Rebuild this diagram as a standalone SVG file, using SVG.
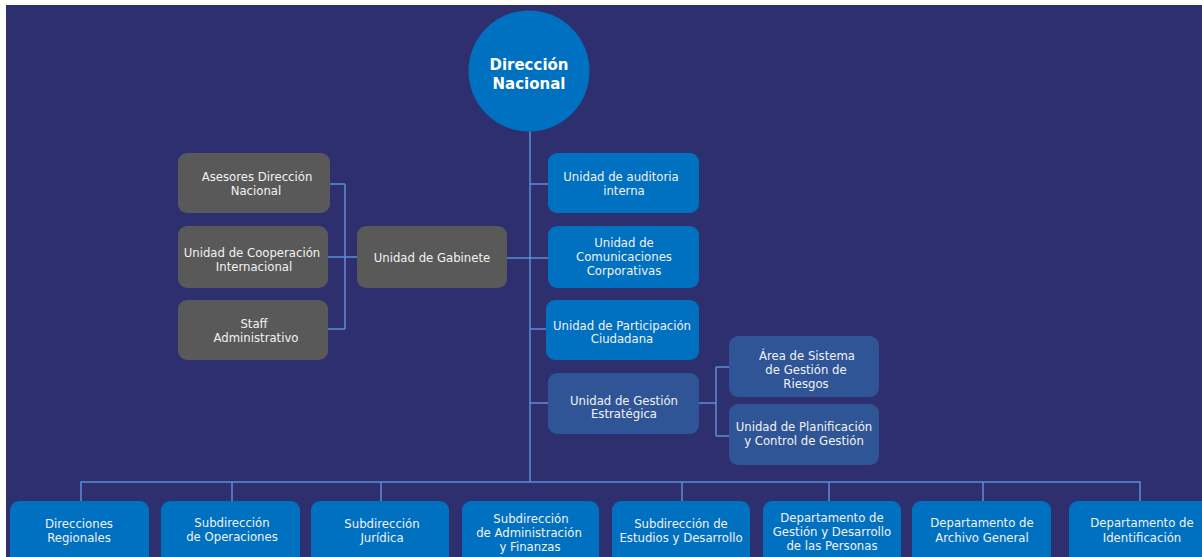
<svg xmlns="http://www.w3.org/2000/svg" width="1202" height="557" viewBox="0 0 1202 557">
<style>
.t{font-family:"DejaVu Sans","Verdana",sans-serif;font-size:11.7px;fill:#f2f2f2;text-anchor:middle}
.tb{font-family:"DejaVu Sans","Verdana",sans-serif;font-size:15px;font-weight:bold;fill:#ffffff;text-anchor:middle}
.gray{fill:#595959}
.blue{fill:#0070c0}
.dblue{fill:#2f5597}
.ln{stroke:#5b8fd6;stroke-width:1.5;fill:none}
</style>
<rect x="0" y="0" width="1202" height="557" fill="#ffffff"/>
<rect x="6" y="5" width="1196" height="552" fill="#2d2f6e"/>
<g id="connectors">
<path class="ln" d="M530,131 V482"/>
<path class="ln" d="M81,501 V482 H1140 V501"/>
<path class="ln" d="M232,482 V501 M381,482 V501 M682,482 V501 M829,482 V501 M983,482 V501"/>
<path class="ln" d="M330,184 H345 M328,257 H357 M328,329 H345 M345,184 V329"/>
<path class="ln" d="M507,258 H530"/>
<path class="ln" d="M530,184 H548 M530,258 H548 M530,329 H546 M530,403 H548"/>
<path class="ln" d="M699,403 H716 M716,367 V436 M716,367 H729 M716,436 H729"/>
</g>
<g id="n-direccion"><circle cx="529" cy="71" r="60.5" class="blue"/><text class="tb" x="529" y="70">Dirección</text><text class="tb" x="529" y="89">Nacional</text></g>
<g id="n-asesores"><rect x="178" y="153" width="152" height="60" rx="9" class="gray"/><text class="t" x="257" y="181">Asesores Dirección</text><text class="t" x="256" y="195">Nacional</text></g>
<g id="n-cooperacion"><rect x="178" y="226" width="150" height="62" rx="9" class="gray"/><text class="t" x="252" y="257">Unidad de Cooperación</text><text class="t" x="254" y="271">Internacional</text></g>
<g id="n-staff"><rect x="178" y="300" width="150" height="60" rx="9" class="gray"/><text class="t" x="254" y="328">Staff</text><text class="t" x="256" y="342">Administrativo</text></g>
<g id="n-gabinete"><rect x="357" y="226" width="150" height="62" rx="9" class="gray"/><text class="t" x="432" y="262">Unidad de Gabinete</text></g>
<g id="n-auditoria"><rect x="548" y="153" width="151" height="60" rx="9" class="blue"/><text class="t" x="621" y="181">Unidad de auditoria</text><text class="t" x="624" y="195">interna</text></g>
<g id="n-comunicaciones"><rect x="548" y="226" width="151" height="62" rx="9" class="blue"/><text class="t" x="624" y="247">Unidad de</text><text class="t" x="624" y="261">Comunicaciones</text><text class="t" x="624" y="275">Corporativas</text></g>
<g id="n-participacion"><rect x="546" y="300" width="153" height="60" rx="9" class="blue"/><text class="t" x="622" y="330">Unidad de Participación</text><text class="t" x="622" y="343">Ciudadana</text></g>
<g id="n-gestion"><rect x="548" y="373" width="151" height="61" rx="9" class="dblue"/><text class="t" x="624" y="405">Unidad de Gestión</text><text class="t" x="624" y="418">Estratégica</text></g>
<g id="n-riesgos"><rect x="729" y="336" width="150" height="61" rx="9" class="dblue"/><text class="t" x="807" y="360">Área de Sistema</text><text class="t" x="806" y="374">de Gestión de</text><text class="t" x="806" y="388">Riesgos</text></g>
<g id="n-planificacion"><rect x="729" y="404" width="150" height="61" rx="9" class="dblue"/><text class="t" x="804" y="431">Unidad de Planificación</text><text class="t" x="804" y="445">y Control de Gestión</text></g>
<g id="n-regionales"><rect x="10" y="501" width="139" height="70" rx="9" class="blue"/><text class="t" x="79" y="528">Direcciones</text><text class="t" x="79" y="542">Regionales</text></g>
<g id="n-operaciones"><rect x="161" y="501" width="139" height="70" rx="9" class="blue"/><text class="t" x="232" y="527">Subdirección</text><text class="t" x="232" y="541">de Operaciones</text></g>
<g id="n-juridica"><rect x="311" y="501" width="138" height="70" rx="9" class="blue"/><text class="t" x="382" y="528">Subdirección</text><text class="t" x="382" y="542">Jurídica</text></g>
<g id="n-administracion"><rect x="462" y="501" width="137" height="70" rx="9" class="blue"/><text class="t" x="531" y="523">Subdirección</text><text class="t" x="529" y="537">de Administración</text><text class="t" x="530" y="551">y Finanzas</text></g>
<g id="n-estudios"><rect x="612" y="501" width="138" height="70" rx="9" class="blue"/><text class="t" x="681" y="528">Subdirección de</text><text class="t" x="681" y="542">Estudios y Desarrollo</text></g>
<g id="n-personas"><rect x="763" y="501" width="138" height="70" rx="9" class="blue"/><text class="t" x="832" y="522">Departamento de</text><text class="t" x="832" y="536">Gestión y Desarrollo</text><text class="t" x="832" y="550">de las Personas</text></g>
<g id="n-archivo"><rect x="912" y="501" width="139" height="70" rx="9" class="blue"/><text class="t" x="982" y="527">Departamento de</text><text class="t" x="982" y="542">Archivo General</text></g>
<g id="n-identificacion"><rect x="1069" y="501" width="144" height="70" rx="9" class="blue"/><text class="t" x="1142" y="527">Departamento de</text><text class="t" x="1142" y="542">Identificación</text></g>
</svg>
